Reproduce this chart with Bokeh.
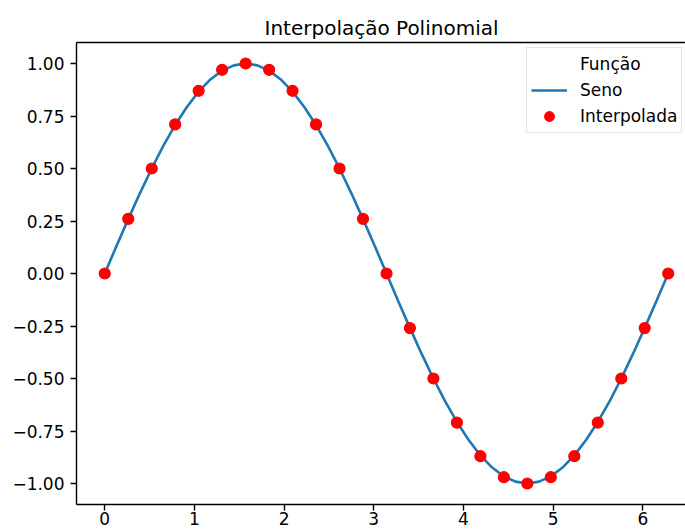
from bokeh.plotting import figure
from bokeh.models import (Range1d, LinearAxis, FixedTicker, Legend, LegendItem,
                          CustomJSTickFormatter, ColumnDataSource)
from bokeh.embed import file_html
from bokeh.resources import INLINE

# Sine curve samples
x_seno = [0, 0.131, 0.262, 0.393, 0.524, 0.654, 0.785, 0.916, 1.047, 1.178, 1.309, 1.440,
          1.571, 1.702, 1.833, 1.963, 2.094, 2.225, 2.356, 2.487, 2.618, 2.749, 2.880, 3.011,
          3.142, 3.272, 3.403, 3.534, 3.665, 3.796, 3.927, 4.058, 4.189, 4.320, 4.451, 4.581,
          4.712, 4.843, 4.974, 5.105, 5.236, 5.367, 5.498, 5.629, 5.760, 5.890, 6.021, 6.152,
          6.283]
y_seno = [0.0, 0.131, 0.259, 0.383, 0.5, 0.609, 0.707, 0.793, 0.866, 0.924, 0.966, 0.991,
          1.0, 0.991, 0.966, 0.924, 0.866, 0.793, 0.707, 0.609, 0.5, 0.383, 0.259, 0.131,
          0.0, -0.131, -0.259, -0.383, -0.5, -0.609, -0.707, -0.793, -0.866, -0.924, -0.966, -0.991,
          -1.0, -0.991, -0.966, -0.924, -0.866, -0.793, -0.707, -0.609, -0.5, -0.383, -0.259, -0.131,
          0.0]

# Interpolated points
x_interp = [0, 0.262, 0.524, 0.785, 1.047, 1.309, 1.571, 1.833, 2.094, 2.356, 2.618, 2.880,
            3.142, 3.403, 3.665, 3.927, 4.189, 4.451, 4.712, 4.974, 5.236, 5.498, 5.760, 6.021,
            6.283]
y_interp = [0.0, 0.26, 0.5, 0.71, 0.87, 0.97, 1.0, 0.97, 0.87, 0.71, 0.5, 0.26,
            0.0, -0.26, -0.5, -0.71, -0.87, -0.97, -1.0, -0.97, -0.87, -0.71, -0.5, -0.26,
            0.0]

x_ticks = [0, 1, 2, 3, 4, 5, 6]
y_ticks = [-1.0, -0.75, -0.5, -0.25, 0.0, 0.25, 0.5, 0.75, 1.0]

FONT = "DejaVu Sans"

p = figure(width=685, height=530, output_backend="svg", toolbar_location=None,
           x_range=Range1d(-0.315, 6.476), y_range=Range1d(-1.1, 1.1),
           min_border_left=76, min_border_right=0, min_border_top=42, min_border_bottom=26)
p.outline_line_color = None
p.xgrid.visible = False
p.ygrid.visible = False
p.background_fill_color = "white"
p.border_fill_color = "white"

p.title.text = "Interpolação Polinomial"
p.title.text_font = FONT
p.title.text_font_size = "20px"
p.title.text_font_style = "normal"
p.title.text_color = "black"
p.title.align = "left"
p.title.offset = 188
p.title.standoff = 6

for ax in (p.xaxis[0], p.yaxis[0]):
    ax.axis_line_width = 1.4
    ax.axis_line_color = "black"
    ax.major_tick_line_width = 1.4
    ax.major_tick_line_color = "black"
    ax.major_tick_out = 6
    ax.major_tick_in = 0
    ax.minor_tick_out = 0
    ax.minor_tick_in = 0
    ax.major_label_standoff = 6
    ax.major_label_text_font = FONT
    ax.major_label_text_font_size = "17px"
    ax.major_label_text_color = "black"

p.xaxis.major_label_standoff = 1
p.xaxis.ticker = FixedTicker(ticks=x_ticks)
p.yaxis.ticker = FixedTicker(ticks=y_ticks)
p.yaxis.formatter = CustomJSTickFormatter(code="return tick.toFixed(2).replace('-', '\u2212');")

# top spine
top = LinearAxis(ticker=FixedTicker(ticks=[]), axis_line_width=1.4, axis_line_color="black",
                 major_tick_out=0, major_tick_in=0, minor_tick_out=0, minor_tick_in=0)
p.add_layout(top, "above")

src_line = ColumnDataSource(dict(x=x_seno, y=y_seno))
src_pts = ColumnDataSource(dict(x=x_interp, y=y_interp))

r_line = p.line("x", "y", source=src_line, line_color="#1f77b4", line_width=2.6)
r_pts = p.scatter("x", "y", source=src_pts, size=11, fill_color="#ff0000",
                  line_color="#ff0000", line_width=1.2)

# legend with a heading row ("Função") above the two entries
legend = Legend(items=[LegendItem(label="Função", renderers=[]),
                       LegendItem(label="Seno", renderers=[r_line]),
                       LegendItem(label="Interpolada", renderers=[r_pts])],
                location=(450, 371),
                label_text_font=FONT, label_text_font_size="17px", label_text_color="black",
                glyph_width=36, glyph_height=24, label_height=24, label_standoff=13,
                spacing=2, padding=4, margin=0,
                border_line_color="#cccccc", border_line_width=1.2,
                background_fill_color="white", background_fill_alpha=0.8)
p.add_layout(legend, "center")

open("out.html", "w").write(file_html(p, INLINE))
